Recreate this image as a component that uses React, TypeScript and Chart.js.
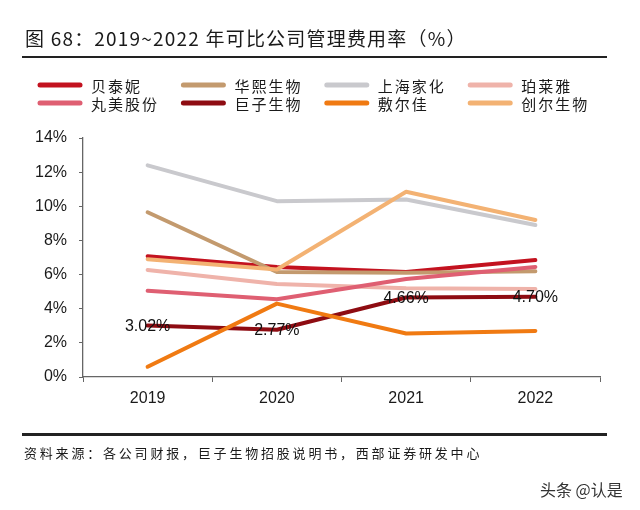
import React, { useEffect, useRef } from "react";
import { Chart, registerables } from "chart.js";

Chart.register(...registerables);

const years = ["2019", "2020", "2021", "2022"];
const seriesNames = ["贝泰妮", "华熙生物", "上海家化", "珀莱雅", "丸美股份", "巨子生物", "敷尔佳", "创尔生物"];
const seriesColors = ["#c3121f", "#c39a6e", "#c9c9cd", "#efb3aa", "#df5f72", "#8e0c12", "#f07a12", "#f3b273"];
const beitaini = [7.08, 6.45, 6.15, 6.85];
const huaxi = [9.65, 6.15, 6.1, 6.2];
const shanghaiJiahua = [12.4, 10.3, 10.4, 8.9];
const proya = [6.27, 5.45, 5.2, 5.15];
const marubi = [5.05, 4.55, 5.74, 6.45];
const juzi = [3.02, 2.77, 4.66, 4.7];
const fuerjia = [0.6, 4.3, 2.55, 2.7];
const chuanger = [6.9, 6.3, 10.85, 9.2];
const seriesValues = [beitaini, huaxi, shanghaiJiahua, proya, marubi, juzi, fuerjia, chuanger];
const juziLabels = ["3.02%", "2.77%", "4.66%", "4.70%"];
const yTicks = [0, 2, 4, 6, 8, 10, 12, 14];

const FONT = '"Liberation Sans", Arial, "Noto Sans CJK SC", sans-serif';
const CJK = '"Noto Sans CJK SC", "Liberation Sans", sans-serif';

const legendPlugin = {
  id: "customLegend",
  afterDraw(chart: any) {
    const ctx = chart.ctx;
    ctx.save();
    chart.data.datasets.forEach((ds: any, i: number) => {
      const col = i % 4;
      const row = Math.floor(i / 4);
      const x0 = 38 + col * 143.4;
      const y = 85 + row * 18;
      ctx.strokeStyle = ds.borderColor;
      ctx.lineWidth = 5;
      ctx.lineCap = "round";
      ctx.beginPath();
      ctx.moveTo(x0 + 2, y);
      ctx.lineTo(x0 + 42, y);
      ctx.stroke();
      ctx.fillStyle = "#1a1a1a";
      ctx.font = "15px " + CJK;
      (ctx as any).letterSpacing = "2px";
      ctx.textBaseline = "middle";
      ctx.textAlign = "left";
      ctx.fillText(ds.label, x0 + 53, y + 1);
    });
    ctx.restore();
  },
};

const labelPlugin = {
  id: "juziLabels",
  afterDatasetsDraw(chart: any) {
    const ctx = chart.ctx;
    const idx = seriesNames.indexOf("巨子生物");
    const meta = chart.getDatasetMeta(idx);
    ctx.save();
    ctx.font = "16px " + FONT;
    ctx.fillStyle = "#111";
    ctx.textAlign = "center";
    ctx.textBaseline = "middle";
    meta.data.forEach((pt: any, i: number) => {
      ctx.fillText(juziLabels[i], pt.x, pt.y + 1);
    });
    ctx.restore();
  },
};

export default function App() {
  const ref = useRef<HTMLCanvasElement>(null);
  useEffect(() => {
    document.body.style.margin = "0";
    const chart = new Chart(ref.current!, {
      type: "line",
      data: {
        labels: years,
        datasets: seriesNames.map((name, i) => ({
          label: name,
          data: seriesValues[i],
          borderColor: seriesColors[i],
          backgroundColor: seriesColors[i],
          borderWidth: 4,
          pointRadius: 0,
          pointHoverRadius: 0,
          tension: 0,
          borderCapStyle: "round" as const,
          borderJoinStyle: "round" as const,
          order: seriesNames.length - i,
        })),
      },
      options: {
        responsive: false,
        animation: false,
        events: [],
        layout: { padding: { top: 138, right: 40, left: 0, bottom: 0 } },
        plugins: { legend: { display: false }, tooltip: { enabled: false }, title: { display: false } },
        scales: {
          x: {
            type: "category",
            offset: true,
            grid: { display: true, drawOnChartArea: false, offset: true, tickLength: 5, color: "#666", lineWidth: 1 },
            border: { display: true, color: "#666", width: 1.3 },
            ticks: { font: { size: 16, family: FONT }, color: "#1a1a1a", padding: 7 },
            afterFit: (s: any) => {
              s.height = 133;
            },
          },
          y: {
            min: 0,
            max: 14,
            afterBuildTicks: (s: any) => {
              s.ticks = yTicks.map((v) => ({ value: v }));
            },
            grid: { display: true, drawOnChartArea: false, tickLength: 4, color: "#666", lineWidth: 1 },
            border: { display: true, color: "#666", width: 1.3 },
            ticks: {
              font: { size: 16, family: FONT },
              color: "#1a1a1a",
              padding: 12,
              callback: (v: any) => v + "%",
            },
            afterFit: (s: any) => {
              s.width = 83;
            },
          },
        },
      },
      plugins: [legendPlugin, labelPlugin],
    });
    return () => chart.destroy();
  }, []);

  return (
    <div style={{ position: "fixed", left: 0, top: 0, width: 640, height: 510, background: "#fff", overflow: "hidden" }}>
      <canvas ref={ref} width={640} height={510} style={{ position: "absolute", left: 0, top: 0 }} />
      <div
        style={{
          position: "absolute",
          left: 25,
          top: 27,
          fontFamily: CJK,
          fontSize: 19,
          lineHeight: "22px",
          letterSpacing: "1.2px",
          color: "#1a1a1a",
          whiteSpace: "nowrap",
        }}
      >
        图 68：2019~2022 年可比公司管理费用率（%）
      </div>
      <div style={{ position: "absolute", left: 22, top: 56, width: 585, height: 2, background: "#222" }} />
      <div style={{ position: "absolute", left: 22, top: 433, width: 585, height: 2.5, background: "#222" }} />
      <div
        style={{
          position: "absolute",
          left: 24,
          top: 444,
          fontFamily: CJK,
          fontSize: 13,
          lineHeight: "18px",
          letterSpacing: "2.8px",
          color: "#1a1a1a",
          whiteSpace: "nowrap",
        }}
      >
        资料来源：各公司财报，巨子生物招股说明书，西部证券研发中心
      </div>
      <div
        style={{
          position: "absolute",
          left: 540,
          top: 479,
          fontFamily: CJK,
          fontSize: 16,
          lineHeight: "20px",
          color: "#333",
          whiteSpace: "nowrap",
        }}
      >
        头条 @认是
      </div>
    </div>
  );
}
